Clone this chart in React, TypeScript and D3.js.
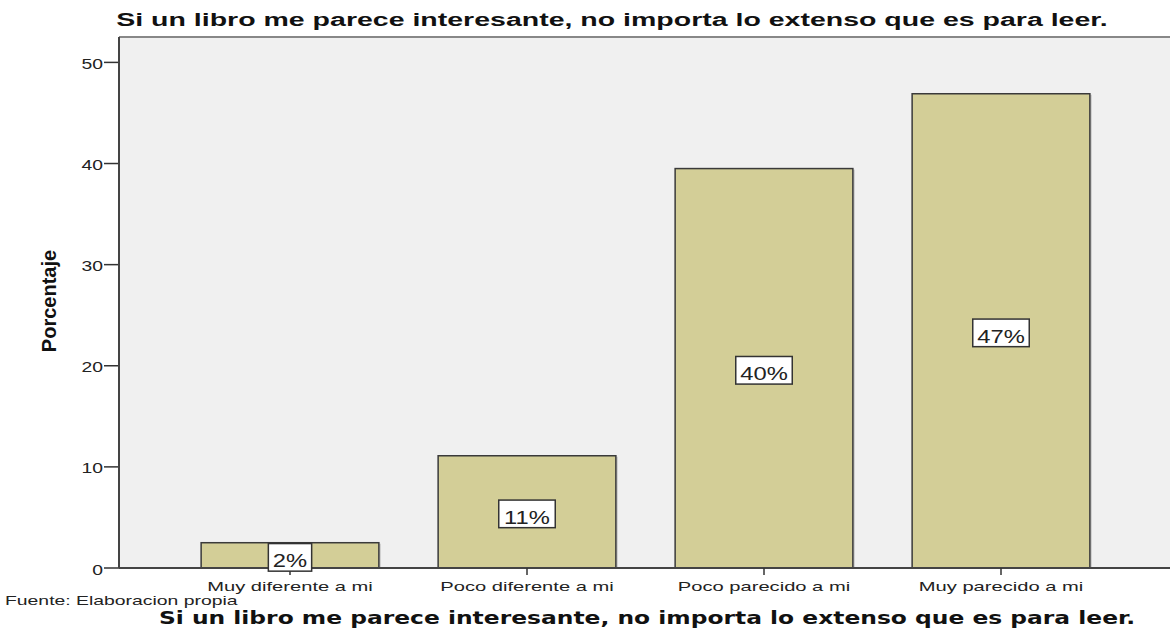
import React from "react";
import * as d3 from "d3";

const categories = ["Muy diferente a mi", "Poco diferente a mi", "Poco parecido a mi", "Muy parecido a mi"];
const values = [2.5, 11.1, 39.5, 46.9];
const labels = ["2%", "11%", "40%", "47%"];
const yTicks = [0, 10, 20, 30, 40, 50];
const title = "Si un libro me parece interesante, no importa lo extenso que es para leer.";
const yTitle = "Porcentaje";
const source = "Fuente: Elaboracion propia";

const SANS = "Liberation Sans, Arial, sans-serif";

export default function App() {
  const W = 1170, H = 629;
  const plotL = 119, plotT = 37, plotB = 568, plotR = 1170;
  const y = d3.scaleLinear().domain([0, 50]).range([plotB, 62.4]);
  const x = d3.scaleBand<string>().domain(categories).range([171.5, 1119.5]).paddingInner(0.25).paddingOuter(0.125);
  const bw = x.bandwidth();
  const labelWidth = (s: string) => {
    let w = 0;
    for (const ch of s) w += ch === "%" ? 21.1 : 13.2;
    return w + 9;
  };
  return (
    <svg width={W} height={H} style={{ position: "absolute", left: 0, top: 0 }}>
      <rect x={0} y={0} width={W} height={H} fill="#fff" />
      <rect x={plotL} y={plotT} width={plotR - plotL} height={plotB - plotT} fill="#f0f0f0" />
      <line x1={plotL} x2={plotR} y1={plotT} y2={plotT} stroke="#888" strokeWidth={2} />
      <text transform="translate(612,26) scale(1.5,1)" textAnchor="middle" fontFamily={SANS} fontWeight="bold" fontSize={19} fill="#111">{title}</text>
      {categories.map((c, i) => {
        const x0 = x(c)!;
        const y0 = y(values[i]);
        return (
          <g key={c}>
            <rect x={x0 + 2} y={y0 + 1} width={bw} height={plotB - y0 - 1} fill="#aaa" opacity={0.5} />
            <rect x={x0} y={y0} width={bw} height={plotB - y0} fill="#d3ce97" stroke="#3a3a3a" strokeWidth={1.5} />
          </g>
        );
      })}
      {yTicks.map((t) => (
        <g key={t}>
          <line x1={104} x2={plotL} y1={y(t)} y2={y(t)} stroke="#333" strokeWidth={1.5} />
          <text transform={`translate(103,${y(t) + 6.5}) scale(1.38,1)`} textAnchor="end" fontFamily={SANS} fontSize={14} fill="#222">{t}</text>
        </g>
      ))}
      <line x1={plotL} x2={plotL} y1={plotT} y2={plotB} stroke="#444" strokeWidth={2} />
      <line x1={plotL} x2={plotR} y1={plotB} y2={plotB} stroke="#444" strokeWidth={2} />
      {categories.map((c, i) => {
        const cx = x(c)! + bw / 2;
        const mid = (y(values[i]) + plotB) / 2;
        const bwid = labelWidth(labels[i]);
        return (
          <g key={"l" + c}>
            <line x1={cx} x2={cx} y1={plotB} y2={plotB + 7} stroke="#333" strokeWidth={1.5} />
            <text transform={`translate(${cx},${plotB + 23}) scale(1.55,1)`} textAnchor="middle" fontFamily={SANS} fontSize={13} fill="#222">{c}</text>
            <rect x={cx - bwid / 2} y={mid + 2 - 13.8} width={bwid} height={27.6} fill="#fff" stroke="#333" strokeWidth={1.5} />
            <text transform={`translate(${cx},${mid + 12}) scale(1.32,1)`} textAnchor="middle" fontFamily={SANS} fontSize={18} fill="#222">{labels[i]}</text>
          </g>
        );
      })}
      <text transform="translate(56,301) rotate(-90)" textAnchor="middle" fontFamily="Liberation Sans Narrow, Arial Narrow, sans-serif" fontWeight="bold" fontSize={20} fill="#111">{yTitle}</text>
      <text transform="translate(5,605) scale(1.55,1)" fontFamily={SANS} fontSize={12.5} fill="#222">{source}</text>
      <text transform="translate(647,624) scale(1.376,1)" textAnchor="middle" fontFamily="DejaVu Sans, Verdana, sans-serif" fontWeight="bold" fontSize={17} fill="#111">{title}</text>
    </svg>
  );
}
